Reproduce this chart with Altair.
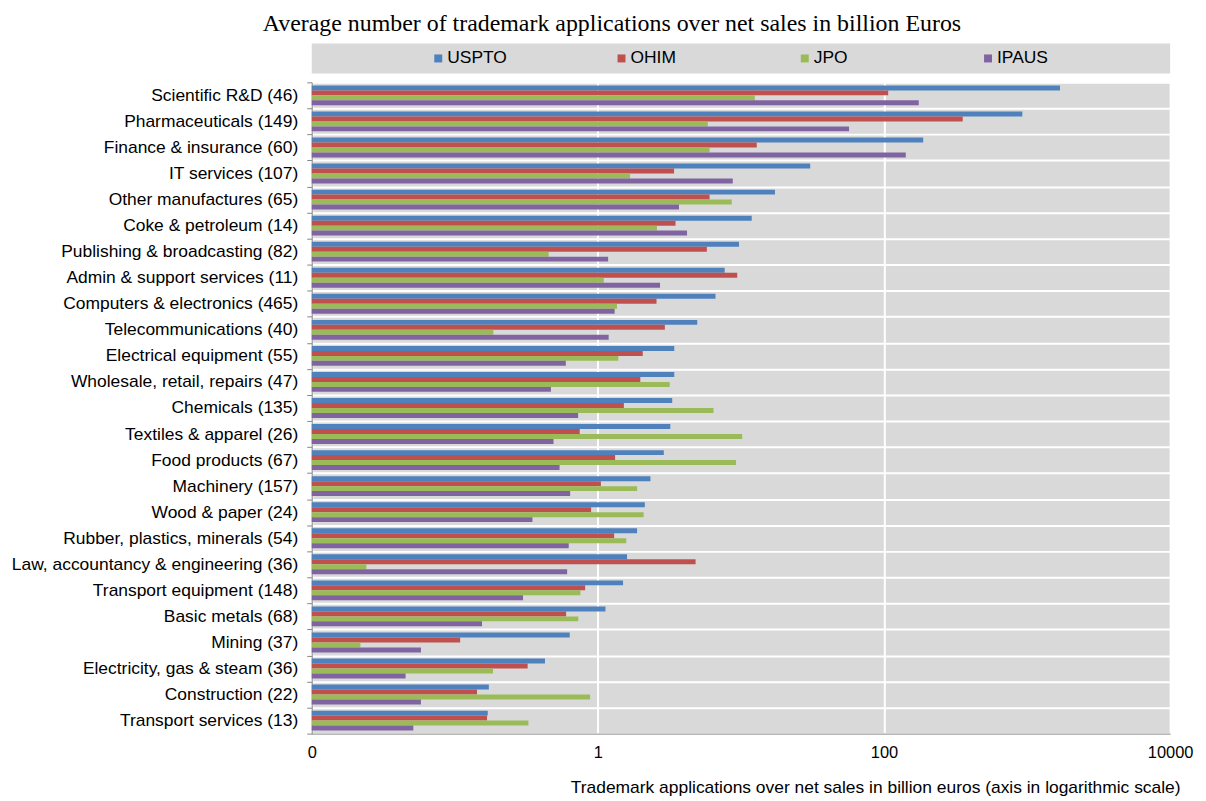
import altair as alt
import pandas as pd

categories = [
    "Scientific R&D (46)", "Pharmaceuticals (149)", "Finance & insurance (60)",
    "IT services (107)", "Other manufactures (65)", "Coke & petroleum (14)",
    "Publishing & broadcasting (82)", "Admin & support services (11)",
    "Computers & electronics (465)", "Telecommunications (40)",
    "Electrical equipment (55)", "Wholesale, retail, repairs (47)",
    "Chemicals (135)", "Textiles & apparel (26)", "Food products (67)",
    "Machinery  (157)", "Wood & paper (24)", "Rubber, plastics, minerals (54)",
    "Law, accountancy & engineering (36)", "Transport equipment (148)",
    "Basic metals (68)", "Mining (37)", "Electricity, gas & steam (36)",
    "Construction (22)", "Transport services (13)",
]
series = ["USPTO", "OHIM", "JPO", "IPAUS"]
colors = ["#4F81BD", "#C0504D", "#9BBB59", "#8064A2"]

uspto = [1700, 927, 188, 30.5, 17.3, 11.9, 9.7, 7.7, 6.64, 4.95, 3.42, 3.42, 3.31,
         3.21, 2.89, 2.33, 2.13, 1.88, 1.60, 1.50, 1.13, 0.636, 0.427, 0.173, 0.170]
ohim = [107, 355, 12.9, 3.41, 6.04, 3.49, 5.78, 9.42, 2.57, 2.94, 2.06, 1.98, 1.52,
        0.747, 1.32, 1.05, 0.897, 1.30, 4.82, 0.815, 0.60, 0.109, 0.323, 0.143, 0.168]
jpo = [12.5, 5.87, 6.04, 1.68, 8.63, 2.59, 0.453, 1.10, 1.36, 0.186, 1.39, 3.18, 6.43,
       10.2, 9.24, 1.88, 2.09, 1.58, 0.0241, 0.755, 0.73, 0.0219, 0.185, 0.883, 0.327]
ipaus = [175, 57, 142, 8.77, 3.69, 4.2, 1.18, 2.72, 1.31, 1.19, 0.597, 0.47, 0.728,
         0.49, 0.54, 0.64, 0.349, 0.626, 0.61, 0.30, 0.155, 0.058, 0.0453, 0.058, 0.0513]

x_ticks = [0.01, 1, 100, 10000]

values = {"USPTO": uspto, "OHIM": ohim, "JPO": jpo, "IPAUS": ipaus}
rows = []
for s in series:
    for c, v in zip(categories, values[s]):
        rows.append({"category": c, "series": s, "value": v})
df = pd.DataFrame(rows)
legend_df = pd.DataFrame({"series": series})

color_scale = alt.Scale(domain=series, range=colors)
FONT = "Liberation Sans"
W = 862

bars = alt.Chart(df).mark_bar().encode(
    y=alt.Y("category:N", sort=categories, title=None,
            scale=alt.Scale(paddingInner=0, paddingOuter=0),
            axis=alt.Axis(tickBand="extent", grid=True, gridColor="white", gridWidth=2,
                          domainColor="#868686", tickColor="#868686", tickSize=5,
                          labelFontSize=17.5, labelFont=FONT, labelColor="black",
                          labelPadding=9, labelLimit=400)),
    yOffset=alt.YOffset("series:N", sort=series,
                        scale=alt.Scale(paddingInner=0, paddingOuter=0.62)),
    x=alt.X("value:Q",
            scale=alt.Scale(type="log", domain=[0.01, 10000], clamp=True),
            axis=alt.Axis(values=x_ticks, grid=True, gridColor="white", gridWidth=2,
                          labelExpr="datum.value < 0.1 ? '0' : format(datum.value, 'd')",
                          domainColor="#868686", ticks=False,
                          labelFontSize=16.5, labelFont=FONT, labelColor="black",
                          labelPadding=11, labelFlush=False,
                          title="Trademark applications over net sales in billion euros  (axis in logarithmic scale)",
                          titleFont=FONT, titleFontSize=17.5, titleFontWeight="normal",
                          titleColor="black", titleAnchor="end", titleAlign="right",
                          titleX=W + 10, titleY=54, titleBaseline="middle")),
    color=alt.Color("series:N", scale=color_scale, legend=None),
).properties(width=W, height=654)

legend_x = alt.X("series:N", sort=series, axis=None,
                 scale=alt.Scale(type="point", padding=0.842, align=0.41))
leg_sq = alt.Chart(legend_df).mark_square(size=64, opacity=1).encode(
    x=legend_x,
    color=alt.Color("series:N", scale=color_scale, legend=None),
)
leg_tx = alt.Chart(legend_df).mark_text(align="left", dx=9, fontSize=17.5, font=FONT,
                                        color="black").encode(
    x=legend_x, text="series:N")
legend = (leg_sq + leg_tx).properties(width=W, height=30)

chart = alt.vconcat(legend, bars, spacing=0).properties(
    title=alt.TitleParams(
        "Average number of trademark applications over net sales in billion Euros",
        font="Liberation Serif", fontSize=24, fontWeight="normal", color="black",
        anchor="middle", offset=8, dx=10),
    padding={"left": 3, "top": 2, "right": 5, "bottom": 0},
).configure_view(fill="#D9D9D9", strokeOpacity=0, strokeWidth=0)

chart.save("out.html", embed_options={"renderer": "svg", "actions": False})
